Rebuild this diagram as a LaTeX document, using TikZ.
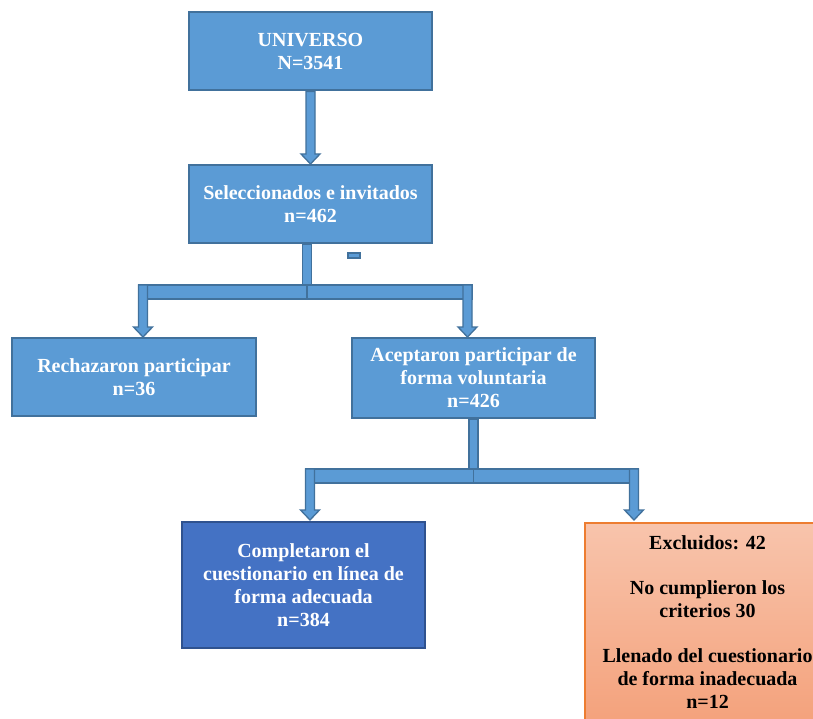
\documentclass[tikz,border=0pt]{standalone}
\usepackage{fontspec}
\setmainfont{Liberation Serif}
\usetikzlibrary{calc}
\definecolor{boxblue}{HTML}{5B9BD5}
\definecolor{boxline}{HTML}{41719C}
\definecolor{darkblue}{HTML}{4472C4}
\definecolor{darkline}{HTML}{2F528F}
\definecolor{peachtop}{HTML}{F8C4AC}
\definecolor{peachbot}{HTML}{F4A27C}
\definecolor{orangeline}{HTML}{ED7D31}
\tikzset{
  box/.style={draw=boxline, fill=boxblue, line width=2pt, text=white,
    font=\bfseries\fontsize{20}{23}\selectfont, align=center, inner sep=0pt},
  darkbox/.style={box, draw=darkline, fill=darkblue},
  peachbox/.style={box, draw=orangeline, top color=peachtop, bottom color=peachbot, text=black},
  blk/.style={draw=boxline, fill=boxblue, line width=1.3pt, line join=miter},
}
\newcommand{\dnarrow}[2]{%
  \filldraw[blk] let \p1=(#1), \p2=(#2) in
    (\x1-4.5pt,\y1) -- (\x1+4.5pt,\y1) -- (\x1+4.5pt,\y2+10pt) -- (\x1+9.5pt,\y2+10pt)
    -- (\x1,\y2) -- (\x1-9.5pt,\y2+10pt) -- (\x1-4.5pt,\y2+10pt) -- cycle;}
\begin{document}
\begin{tikzpicture}[x=1pt,y=-1pt]
\useasboundingbox (0,0) rectangle (813,719);
\fill[white] (0,0) rectangle (813,719);

\node[box, minimum width=243pt, minimum height=78pt] (u) at (310.5,51.5) {UNIVERSO\\N=3541};
\node[box, minimum width=243pt, minimum height=78pt] (s) at (310.5,204) {Seleccionados e invitados\\n=462};
\node[box, minimum width=244pt, minimum height=78pt] (r) at (134,377) {Rechazaron participar\\n=36};
\node[box, minimum width=243pt, minimum height=80pt] (a) at (473.5,378) {Aceptaron participar de\\forma voluntaria\\n=426};
\node[darkbox, minimum width=243pt, minimum height=126pt] (c) at (303.5,585) {Completaron el\\cuestionario en línea de\\forma adecuada\\n=384};
\begin{scope}
\clip (0,0) rectangle (813,719);
\node[peachbox, minimum width=245pt, minimum height=198pt] (e) at (707.5,622)
  {Excluidos: 42\\[22pt]No cumplieron los\\criterios 30\\[22pt]Llenado del cuestionario\\de forma inadecuada\\n=12};
\end{scope}

% arrow universo -> seleccionados
\dnarrow{u.south}{s.north}

% first branching
\coordinate (j1) at ($(s.south)+(-3.5,41)$);
\coordinate (l1) at ($(r.north)+(9,0)$);
\coordinate (r1) at ($(a.north)+(-6,0)$);
\filldraw[blk] ($(s.south)+(-8,0)$) rectangle ($(j1)+(4.5,0)$);
\filldraw[blk] ($(l1 |- j1)+(-4.5,0)$) rectangle ($(r1 |- j1)+(4.5,14)$);
\draw[boxline, line width=1.3pt] (j1) -- ++(0,14);
\dnarrow{l1 |- j1}{l1}
\dnarrow{r1 |- j1}{r1}
\filldraw[blk] (348,253) rectangle (360,258);

% second branching
\coordinate (j2) at ($(a.south)+(0,50)$);
\coordinate (l2) at ($(c.north)+(6.5,-1)$);
\coordinate (r2) at ($(e.north)+(-73.5,-2)$);
\filldraw[blk] ($(a.south)+(-4.5,0)$) rectangle ($(j2)+(4.5,0)$);
\filldraw[blk] ($(l2 |- j2)+(-4.5,0)$) rectangle ($(r2 |- j2)+(4.5,14)$);
\draw[boxline, line width=1.3pt] (j2) -- ++(0,14);
\dnarrow{l2 |- j2}{l2}
\dnarrow{r2 |- j2}{r2}
\end{tikzpicture}
\end{document}
